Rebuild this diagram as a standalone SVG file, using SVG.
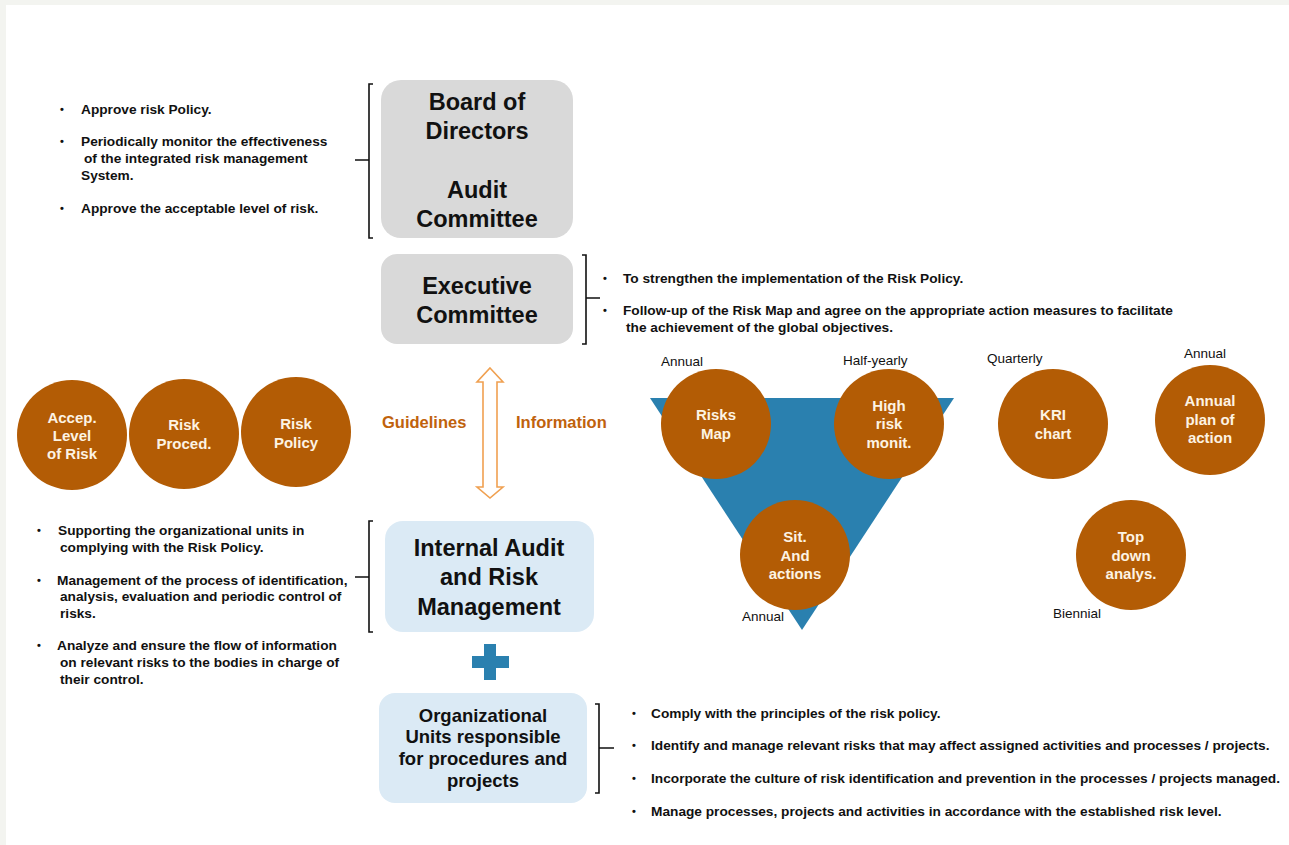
<svg xmlns="http://www.w3.org/2000/svg" width="1289" height="845" viewBox="0 0 1289 845">
<style>
.bt{font-family:"Liberation Sans",Arial,sans-serif;font-weight:bold;font-size:13.7px;fill:#111}
.dot{font-family:"Liberation Sans",Arial,sans-serif;font-weight:bold;font-size:11px;fill:#111}
.ttl{font-family:"Liberation Sans",Arial,sans-serif;font-weight:bold;font-size:23.5px;fill:#111;text-anchor:middle}
.org{font-family:"Liberation Sans",Arial,sans-serif;font-weight:bold;font-size:18.5px;fill:#111;text-anchor:middle}
.ct{font-family:"Liberation Sans",Arial,sans-serif;font-weight:bold;font-size:15px;fill:#fdf3e3;text-anchor:middle}
.lbl{font-family:"Liberation Sans",Arial,sans-serif;font-size:13.5px;fill:#111}
.or{font-family:"Liberation Sans",Arial,sans-serif;font-weight:bold;font-size:16.5px;fill:#c0620c}
.circ{fill:#b35c05}
.br{fill:none;stroke:#111;stroke-width:1.6}
.gray{fill:#d9d9d9}
.blue{fill:#dbeaf5}
</style>
<rect x="0" y="0" width="1289" height="845" fill="#f3f4f0"/>
<rect x="6" y="5" width="1283" height="840" fill="#ffffff"/>

<g id="board-notes">
<text class="dot" x="60" y="113">•</text>
<text class="bt" x="81" y="114">Approve risk Policy.</text>
<text class="dot" x="60" y="145">•</text>
<text class="bt" x="81" y="146">Periodically monitor the effectiveness</text>
<text class="bt" x="84" y="163">of the integrated risk management</text>
<text class="bt" x="81" y="180">System.</text>
<text class="dot" x="60" y="212">•</text>
<text class="bt" x="81" y="213">Approve the acceptable level of risk.</text>
</g>

<g id="board">
<rect class="gray" x="381" y="80" width="192" height="158" rx="20"/>
<text class="ttl" x="477" y="110">Board of</text>
<text class="ttl" x="477" y="139">Directors</text>
<text class="ttl" x="477" y="198">Audit</text>
<text class="ttl" x="477" y="227">Committee</text>
</g>

<g id="executive">
<rect class="gray" x="381" y="254" width="192" height="90" rx="16"/>
<text class="ttl" x="477" y="294">Executive</text>
<text class="ttl" x="477" y="323">Committee</text>
</g>

<g id="exec-notes">
<text class="dot" x="603" y="282">•</text>
<text class="bt" x="623" y="283">To strengthen the implementation of the Risk Policy.</text>
<text class="dot" x="603" y="314">•</text>
<text class="bt" x="623" y="315">Follow-up of the Risk Map and agree on the appropriate action measures to facilitate</text>
<text class="bt" x="626" y="332">the achievement of the global objectives.</text>
</g>

<g id="policy-circles">
<circle class="circ" cx="72" cy="435" r="55"/>
<text class="ct" x="72" y="423">Accep.</text>
<text class="ct" x="72" y="441">Level</text>
<text class="ct" x="72" y="459">of Risk</text>
<circle class="circ" cx="184" cy="434" r="55"/>
<text class="ct" x="184" y="430">Risk</text>
<text class="ct" x="184" y="449">Proced.</text>
<circle class="circ" cx="296" cy="432" r="55"/>
<text class="ct" x="296" y="429">Risk</text>
<text class="ct" x="296" y="448">Policy</text>
</g>

<g id="flow-labels">
<text class="or" x="382" y="428">Guidelines</text>
<text class="or" x="516" y="428">Information</text>
</g>

<g id="connectors">
<path d="M490 368 L503 382 L497 382 L497 487 L503 487 L490 498 L477 487 L483 487 L483 382 L477 382 Z" fill="#ffffff" stroke="#f0a050" stroke-width="1.6" stroke-linejoin="miter"/>
<path class="br" d="M373 84 H369 V238 H373 M355 160 H369"/>
<path class="br" d="M582 255 H586 V344 H582 M586 298 H600"/>
<path class="br" d="M373 521 H369 V632 H373 M355 577 H369"/>
<path class="br" d="M595 704 H599 V793 H595 M599 748 H614"/>
</g>

<g id="triangle">
<polygon points="650,398 954,398 802,630" fill="#2a80af"/>
</g>

<g id="risks-map">
<circle class="circ" cx="716" cy="424" r="55"/>
<text class="ct" x="716" y="420">Risks</text>
<text class="ct" x="716" y="439">Map</text>
<text class="lbl" x="661" y="366">Annual</text>
</g>
<g id="high-risk">
<circle class="circ" cx="889" cy="424" r="55"/>
<text class="ct" x="889" y="411">High</text>
<text class="ct" x="889" y="429">risk</text>
<text class="ct" x="889" y="448">monit.</text>
<text class="lbl" x="843" y="365">Half-yearly</text>
</g>
<g id="sit-actions">
<circle class="circ" cx="795" cy="555" r="55"/>
<text class="ct" x="795" y="542">Sit.</text>
<text class="ct" x="795" y="561">And</text>
<text class="ct" x="795" y="579">actions</text>
<text class="lbl" x="742" y="621">Annual</text>
</g>
<g id="kri">
<circle class="circ" cx="1053" cy="424" r="55"/>
<text class="ct" x="1053" y="420">KRI</text>
<text class="ct" x="1053" y="439">chart</text>
<text class="lbl" x="987" y="363">Quarterly</text>
</g>
<g id="annual-plan">
<circle class="circ" cx="1210" cy="420" r="55"/>
<text class="ct" x="1210" y="406">Annual</text>
<text class="ct" x="1210" y="425">plan of</text>
<text class="ct" x="1210" y="443">action</text>
<text class="lbl" x="1184" y="358">Annual</text>
</g>
<g id="top-down">
<circle class="circ" cx="1131" cy="555" r="55"/>
<text class="ct" x="1131" y="542">Top</text>
<text class="ct" x="1131" y="561">down</text>
<text class="ct" x="1131" y="579">analys.</text>
<text class="lbl" x="1053" y="618">Biennial</text>
</g>

<g id="internal-audit">
<rect class="blue" x="385" y="521" width="209" height="111" rx="18"/>
<text class="ttl" x="489" y="556">Internal Audit</text>
<text class="ttl" x="489" y="585">and Risk</text>
<text class="ttl" x="489" y="615">Management</text>
</g>

<g id="audit-notes">
<text class="dot" x="37" y="534">•</text>
<text class="bt" x="58" y="535">Supporting the organizational units in</text>
<text class="bt" x="60" y="552">complying with the Risk Policy.</text>
<text class="dot" x="37" y="584">•</text>
<text class="bt" x="57" y="585">Management of the process of identification,</text>
<text class="bt" x="60" y="601">analysis, evaluation and periodic control of</text>
<text class="bt" x="60" y="618">risks.</text>
<text class="dot" x="37" y="649">•</text>
<text class="bt" x="57" y="650">Analyze and ensure the flow of information</text>
<text class="bt" x="60" y="667">on relevant risks to the bodies in charge of</text>
<text class="bt" x="60" y="684">their control.</text>
</g>

<g id="plus">
<rect x="484" y="644" width="12" height="36" fill="#2a80af"/>
<rect x="472" y="656" width="37" height="12" fill="#2a80af"/>
</g>

<g id="org-units">
<rect class="blue" x="379" y="693" width="208" height="110" rx="16"/>
<text class="org" x="483" y="722">Organizational</text>
<text class="org" x="483" y="743">Units responsible</text>
<text class="org" x="483" y="765">for procedures and</text>
<text class="org" x="483" y="787">projects</text>
</g>

<g id="org-notes">
<text class="dot" x="632" y="717">•</text>
<text class="bt" x="651" y="718">Comply with the principles of the risk policy.</text>
<text class="dot" x="632" y="749">•</text>
<text class="bt" x="651" y="750">Identify and manage relevant risks that may affect assigned activities and processes / projects.</text>
<text class="dot" x="632" y="782">•</text>
<text class="bt" x="651" y="783">Incorporate the culture of risk identification and prevention in the processes / projects managed.</text>
<text class="dot" x="632" y="815">•</text>
<text class="bt" x="651" y="816">Manage processes, projects and activities in accordance with the established risk level.</text>
</g>
</svg>
